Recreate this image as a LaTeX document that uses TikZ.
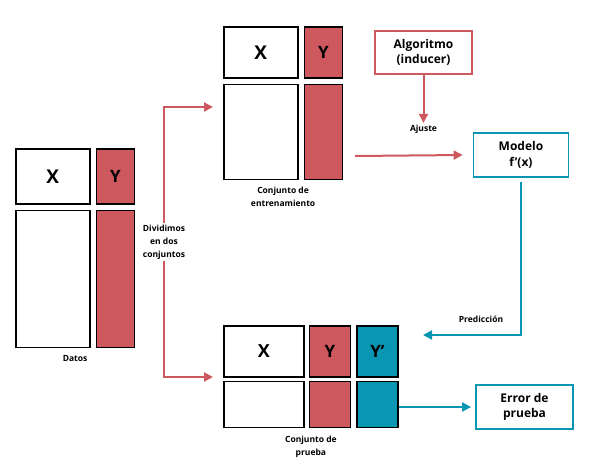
\documentclass[tikz,border=0pt]{standalone}
\usepackage{fontspec}
\setmainfont{Open Sans}
\usetikzlibrary{positioning,calc,arrows.meta}
\definecolor{rojo}{RGB}{205,88,93}
\definecolor{turq}{RGB}{8,150,178}

\begin{document}
\begin{tikzpicture}[x=1pt,y=-1pt,node distance=5pt,
  celda/.style={draw,line width=1.6pt,inner sep=0pt,font=\bfseries\fontsize{17}{17}\selectfont},
  celday/.style={celda,fill=rojo},
  celdap/.style={celda,fill=turq},
  caja/.style={draw,fill=white,line width=1.8pt,inner sep=0pt,align=center,font=\bfseries\fontsize{12}{15.5}\selectfont},
  etiq/.style={align=center,inner sep=2pt,font=\bfseries\fontsize{8.5}{13}\selectfont},
  flecha/.style={-{Triangle[length=9pt,width=9pt]},line width=2pt}]
  \useasboundingbox (0,0) rectangle (591,472);

  % datos
  \node[celda,anchor=north west,minimum width=74pt,minimum height=55pt,font=\bfseries\fontsize{19}{19}\selectfont] (dx) at (15,148) {X};
  \node[celday,right=of dx,minimum width=38pt,minimum height=55pt] (dy) {Y};
  \node[celda,below=of dx,minimum width=74pt,minimum height=137pt] (dxb) {};
  \node[celday,below=of dy,minimum width=38pt,minimum height=137pt] (dyb) {};
  \node[etiq,below=5pt of {$(dxb.south west)!0.5!(dyb.south east)$}] (datos) {Datos};

  % entrenamiento
  \node[celda,anchor=north west,minimum width=74pt,minimum height=51pt,font=\bfseries\fontsize{19}{19}\selectfont] (tx) at (223,26) {X};
  \node[celday,right=of tx,minimum width=38pt,minimum height=51pt] (ty) {Y};
  \node[celda,below=of tx,minimum width=74pt,minimum height=95pt] (txb) {};
  \node[celday,below=of ty,minimum width=38pt,minimum height=95pt] (tyb) {};
  \node[etiq,below=5pt of {$(txb.south west)!0.5!(tyb.south east)$}] (entr) {Conjunto de\\entrenamiento};

  % prueba
  \node[celda,anchor=north west,minimum width=80pt,minimum height=51pt,font=\bfseries\fontsize{18}{18}\selectfont] (px) at (223,325) {X};
  \node[celday,right=4pt of px,minimum width=41pt,minimum height=51pt] (py) {Y};
  \node[celdap,right=of py,minimum width=41pt,minimum height=51pt] (pyy) {Y’};
  \node[celda,below=3pt of px,minimum width=80pt,minimum height=46pt] (pxb) {};
  \node[celday,below=3pt of py,minimum width=41pt,minimum height=46pt] (pyb) {};
  \node[celdap,below=3pt of pyy,minimum width=41pt,minimum height=46pt] (pyyb) {};
  \node[etiq,below=6pt of {$(pxb.south west)!0.5!(pyyb.south east)$}] (prueba) {Conjunto de\\prueba};

  % cajas
  \node[caja,draw=rojo,minimum width=97pt,minimum height=43pt] (algo) at (423.5,52.5) {Algoritmo\\(inducer)};
  \node[caja,draw=turq,minimum width=95pt,minimum height=44pt] (modelo) at (521,155) {Modelo\\f’(x)};
  \node[caja,draw=turq,minimum width=97pt,minimum height=44pt] (error) at (524.5,407) {Error de\\prueba};

  \node[etiq] (div) at (164,242) {Dividimos\\en dos\\conjuntos};
  \node[etiq,below=48pt of algo] (ajuste) {Ajuste};
  \node[etiq] (pred) at (481,319) {Predicción};

  \coordinate (a1) at (213,107);
  \coordinate (a2) at (213,377);
  \coordinate (a3) at (423,335);
  \coordinate (e1) at (355,156);

  \draw[flecha,rojo] (div.north) |- (a1);
  \draw[flecha,rojo] (div.south) |- (a2);
  \draw[flecha,rojo] (algo.south) -- (ajuste.north);
  \draw[flecha,rojo] (e1) -- ([xshift=-10pt]modelo.west);
  \draw[flecha,turq,shorten <=4pt] (modelo.south) |- (a3);
  \draw[flecha,turq,shorten >=4pt] (pyyb.east |- error.west) -- (error.west);
\end{tikzpicture}
\end{document}
